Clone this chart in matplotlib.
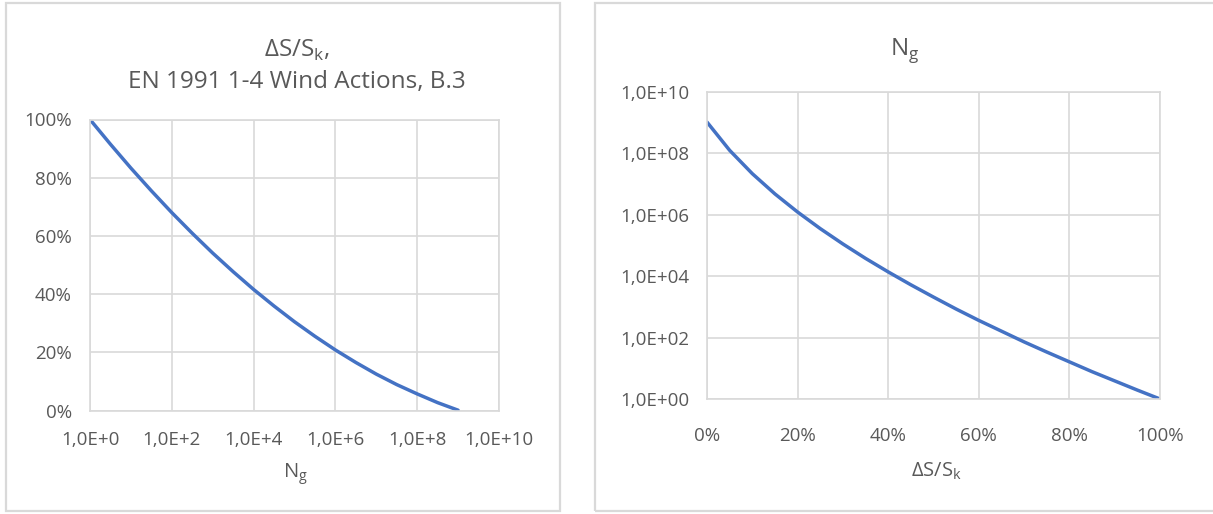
import matplotlib
matplotlib.use("Agg")
import matplotlib.pyplot as plt
from matplotlib.patches import Rectangle
from matplotlib.ticker import FixedLocator, FixedFormatter, PercentFormatter

# ---- data ----
# Left chart: ΔS/Sk (%) vs Ng (exponent of 10)
left_exp = [0, 0.5, 1, 1.5, 2, 2.5, 3, 3.5, 4, 4.5, 5, 5.5, 6, 6.5, 7, 7.5, 8, 8.5, 9]
left_pct = [100, 91.5, 83.3, 75.5, 68.0, 60.9, 54.1, 47.7, 41.6, 35.9, 30.5,
            25.5, 20.8, 16.5, 12.5, 8.9, 5.7, 2.7, 0.1]
left_ng = [10 ** e for e in left_exp]

# Right chart: Ng (exponent of 10) vs ΔS/Sk (%)
right_pct = [0, 5, 10, 15, 20, 25, 30, 35, 40, 45, 50, 55, 60, 65, 70, 75, 80, 85, 90, 95, 100]
right_exp = [9.02, 8.10, 7.34, 6.68, 6.09, 5.55, 5.05, 4.58, 4.14, 3.72, 3.32,
             2.93, 2.56, 2.21, 1.86, 1.53, 1.21, 0.89, 0.59, 0.29, 0.0]
right_ng = [10 ** e for e in right_exp]

left_xticks = [1e0, 1e2, 1e4, 1e6, 1e8, 1e10]
left_xlabels = ["1,0E+0", "1,0E+2", "1,0E+4", "1,0E+6", "1,0E+8", "1,0E+10"]
left_yticks = [0, 20, 40, 60, 80, 100]
right_yticks = [1e0, 1e2, 1e4, 1e6, 1e8, 1e10]
right_ylabels = ["1,0E+00", "1,0E+02", "1,0E+04", "1,0E+06", "1,0E+08", "1,0E+10"]
right_xticks = [0, 20, 40, 60, 80, 100]

# ---- styling ----
W, H = 1213, 514
TXT = "#595959"
GRID = "#d9d9d9"
LINE = "#4472C4"
FONT = "Open Sans"
TICK_FS = 13.5
TITLE_FS = 17.5
LABEL_FS = 14.5

plt.rcParams["font.family"] = [FONT, "DejaVu Sans"]
plt.rcParams["mathtext.fontset"] = "custom"
plt.rcParams["mathtext.rm"] = FONT

fig = plt.figure(figsize=(W / 100, H / 100), dpi=100)
fig.patch.set_facecolor("white")


def px_axes(x0, x1, ytop, ybot):
    return fig.add_axes([x0 / W, 1 - ybot / H, (x1 - x0) / W, (ybot - ytop) / H])


# panel borders
for (x0, y0, x1, y1) in [(6, 3, 560, 511), (595, 3, 1220, 511)]:
    fig.add_artist(Rectangle((x0 / W, 1 - y1 / H), (x1 - x0) / W, (y1 - y0) / H,
                             transform=fig.transFigure, fill=False,
                             edgecolor=GRID, linewidth=1.6))


def style(ax):
    for s in ax.spines.values():
        s.set_color(GRID)
        s.set_linewidth(1.2)
    ax.grid(True, color=GRID, linewidth=1.2)
    ax.set_axisbelow(True)
    ax.tick_params(length=0, colors=TXT, labelsize=TICK_FS)
    ax.minorticks_off()


# ---- left chart ----
axL = px_axes(90, 499, 119.5, 410.5)
axL.plot(left_ng, left_pct, color=LINE, linewidth=2.5, solid_capstyle="round")
axL.set_xscale("log")
axL.set_xlim(1e0, 1e10)
axL.set_ylim(0, 100)
axL.xaxis.set_major_locator(FixedLocator(left_xticks))
axL.xaxis.set_major_formatter(FixedFormatter(left_xlabels))
axL.xaxis.set_minor_locator(FixedLocator([]))
axL.yaxis.set_major_locator(FixedLocator(left_yticks))
axL.yaxis.set_major_formatter(PercentFormatter(decimals=0))
style(axL)
axL.tick_params(axis="x", pad=15)
axL.tick_params(axis="y", pad=13)
fig.text(297 / W, 1 - 50 / H, r"ΔS/S$_\mathregular{k}$,", ha="center", va="center",
         fontsize=TITLE_FS, color=TXT)
fig.text(297 / W, 1 - 82 / H, "EN 1991 1-4 Wind Actions, B.3", ha="center", va="center",
         fontsize=TITLE_FS, color=TXT)
fig.text(295 / W, 1 - 474 / H, r"N$_\mathregular{g}$", ha="center", va="center",
         fontsize=LABEL_FS, color=TXT)

# ---- right chart ----
axR = px_axes(707, 1160, 92, 399)
axR.plot(right_pct, right_ng, color=LINE, linewidth=2.5, solid_capstyle="round")
axR.set_yscale("log")
axR.set_ylim(1e0, 1e10)
axR.set_xlim(0, 100)
axR.yaxis.set_major_locator(FixedLocator(right_yticks))
axR.yaxis.set_major_formatter(FixedFormatter(right_ylabels))
axR.yaxis.set_minor_locator(FixedLocator([]))
axR.xaxis.set_major_locator(FixedLocator(right_xticks))
axR.xaxis.set_major_formatter(PercentFormatter(decimals=0))
style(axR)
axR.tick_params(axis="x", pad=20)
axR.tick_params(axis="y", pad=13)
fig.text(905 / W, 1 - 50 / H, r"N$_\mathregular{g}$", ha="center", va="center",
         fontsize=TITLE_FS, color=TXT)
fig.text(936 / W, 1 - 471 / H, r"ΔS/S$_\mathregular{k}$", ha="center", va="center",
         fontsize=LABEL_FS, color=TXT)

fig.savefig("out.png", dpi=100, facecolor="white")
